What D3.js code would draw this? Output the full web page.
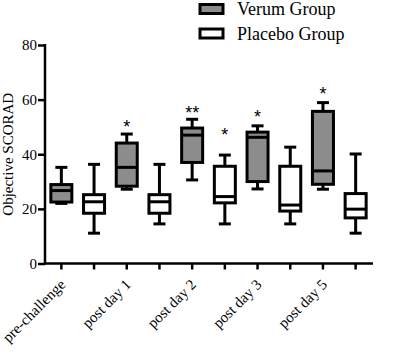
<!DOCTYPE html>
<html>
<head>
<meta charset="utf-8">
<script src="https://cdn.jsdelivr.net/npm/d3@7"></script>
<style>
  body { margin: 0; background: #fff; }
  svg { display: block; font-family: "Liberation Serif", "Times New Roman", serif; }
</style>
</head>
<body>
<svg width="398" height="354"></svg>
<script>
let categories = ['pre-challenge', 'post day 1', 'post day 2', 'post day 3', 'post day 5'];
let groups = ['Verum Group', 'Placebo Group'];

// five-number summaries
let verumMin = [22.0, 27.2, 30.6, 27.3, 27.2];
let verumQ1 = [22.5, 28.3, 37.0, 30.0, 29.0];
let verumMedian = [26.7, 35.2, 47.0, 46.2, 33.9];
let verumQ3 = [28.9, 44.1, 49.6, 48.1, 55.7];
let verumMax = [35.2, 47.4, 52.8, 50.4, 58.9];

let placeboMin = [11.1, 14.5, 14.5, 14.5, 11.1];
let placeboQ1 = [18.4, 18.4, 22.2, 19.2, 16.7];
let placeboMedian = [22.6, 22.6, 24.5, 21.4, 19.9];
let placeboQ3 = [25.2, 25.2, 35.6, 35.6, 25.6];
let placeboMax = [36.3, 36.3, 39.7, 42.6, 40.1];

let verumStars = ['', '*', '**', '*', '*'];
let verumStarAt = [0, 51.1, 56.2, 54.6, 63.2];
let placeboStars = ['', '', '*', '', ''];
let placeboStarAt = [0, 0, 48.2, 0, 0];

let yTicks = [0, 20, 40, 60, 80];

let grey = '#8c8c8c';
let fills = [grey, '#fff'];

// build one row per box
let boxes = [];
categories.forEach(function(c, i) {
  boxes.push({key: c + '|v', cat: c, g: 0, min: verumMin[i], q1: verumQ1[i], med: verumMedian[i],
    q3: verumQ3[i], max: verumMax[i], star: verumStars[i], starAt: verumStarAt[i]});
  boxes.push({key: c + '|p', cat: c, g: 1, min: placeboMin[i], q1: placeboQ1[i], med: placeboMedian[i],
    q3: placeboQ3[i], max: placeboMax[i], star: placeboStars[i], starAt: placeboStarAt[i]});
});

let mLeft = 45, mRight = 372, mTop = 45, mBottom = 263.5;

let x = d3.scaleBand().domain(boxes.map(d => d.key)).range([mLeft, mRight]);
let y = d3.scaleLinear().domain([0, 80]).range([mBottom, mTop]);

let svg = d3.select('svg');

// axes
let yAxis = svg.append('g')
  .attr('transform', 'translate(' + mLeft + ',0)')
  .call(d3.axisLeft(y).tickValues(yTicks).tickSize(7).tickPadding(1).tickSizeOuter(0));

let xAxis = svg.append('g')
  .attr('transform', 'translate(0,' + mBottom + ')')
  .call(d3.axisBottom(x).tickSize(6).tickSizeOuter(0)
    .tickFormat(k => k.endsWith('|v') ? k.split('|')[0] : ''));

[yAxis, xAxis].forEach(function(a) {
  a.select('.domain').attr('stroke', '#000').attr('stroke-width', 2.5);
  a.selectAll('.tick line').attr('stroke', '#000').attr('stroke-width', 2.5);
  a.selectAll('text').attr('font-family', '"Liberation Serif", serif').attr('font-size', 15).attr('fill', '#000');
});
xAxis.select('.domain').attr('d', 'M' + (mLeft - 1) + ',0H' + (mRight + 1));
yAxis.select('.domain').attr('d', 'M0,' + (mTop - 1) + 'V' + (mBottom + 1));

xAxis.selectAll('.tick text')
  .attr('text-anchor', 'end')
  .attr('dy', 0)
  .attr('y', 0)
  .attr('transform', 'translate(5,22) rotate(-45)');

// y label
svg.append('text')
  .attr('transform', 'translate(13,' + ((mTop + mBottom) / 2) + ') rotate(-90)')
  .attr('text-anchor', 'middle')
  .attr('font-size', 15)
  .text('Objective SCORAD');

// boxes
let bw = 21, cap = 12;
let bx = svg.append('g').selectAll('g.box')
  .data(boxes)
  .join('g')
  .attr('class', 'box')
  .attr('transform', d => 'translate(' + (x(d.key) + x.bandwidth() / 2) + ',0)');

bx.append('line')
  .attr('x1', 0).attr('x2', 0)
  .attr('y1', d => y(d.max)).attr('y2', d => y(d.min))
  .attr('stroke', '#000').attr('stroke-width', 3);

bx.selectAll('line.cap')
  .data(d => [d.min, d.max])
  .join('line')
  .attr('class', 'cap')
  .attr('x1', -cap / 2).attr('x2', cap / 2)
  .attr('y1', v => y(v)).attr('y2', v => y(v))
  .attr('stroke', '#000').attr('stroke-width', 3);

bx.append('rect')
  .attr('x', -bw / 2).attr('width', bw)
  .attr('y', d => y(d.q3)).attr('height', d => y(d.q1) - y(d.q3))
  .attr('fill', d => fills[d.g])
  .attr('stroke', '#000').attr('stroke-width', 3);

bx.append('line')
  .attr('x1', -bw / 2).attr('x2', bw / 2)
  .attr('y1', d => y(d.med)).attr('y2', d => y(d.med))
  .attr('stroke', '#000').attr('stroke-width', 3);

bx.filter(d => d.star)
  .append('text')
  .attr('y', d => y(d.starAt) + 9)
  .attr('text-anchor', 'middle')
  .attr('font-family', '"Liberation Sans", Arial, sans-serif')
  .attr('font-size', 18)
  .text(d => d.star);

// legend
let lg = svg.append('g').selectAll('g')
  .data(groups)
  .join('g')
  .attr('transform', (d, i) => 'translate(200,' + (4.5 + i * 24.5) + ')');

lg.append('rect')
  .attr('width', 23).attr('height', 9)
  .attr('fill', (d, i) => fills[i])
  .attr('stroke', '#000').attr('stroke-width', 3);

lg.append('text')
  .attr('x', 37).attr('y', 10.5)
  .attr('font-size', 18)
  .text(d => d);
</script>
</body>
</html>
